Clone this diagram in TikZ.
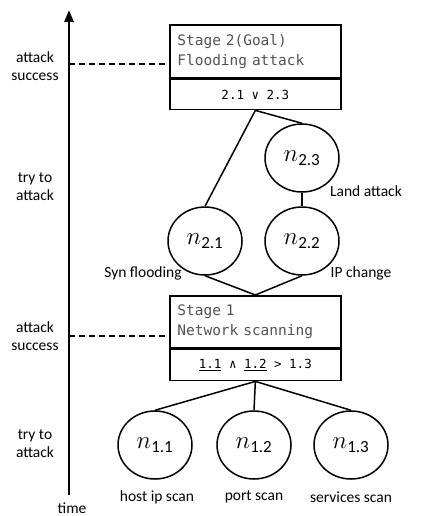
\documentclass[tikz,border=0pt]{standalone}
\usepackage{fontspec}
\setmainfont{Carlito}
\newfontfamily\boxmono{DejaVu Sans Mono}
\newfontfamily\formmono{DejaVu Sans Mono}
\usetikzlibrary{shapes.geometric,arrows.meta}
\newcommand{\evsub}[1]{\mbox{\fontsize{17}{18}\selectfont #1}}
\begin{document}
\begin{tikzpicture}[x=1pt,y=-1pt,
  lbl/.style={font=\fontsize{15.5}{18}\selectfont, align=center, inner sep=0pt},
  evt/.style={draw, ellipse, line width=1.5pt, minimum width=74pt, minimum height=68pt, inner sep=0pt, font=\fontsize{27}{29}\selectfont},
  conn/.style={line width=1.5pt},
  stagebox/.style={draw, line width=1.7pt, minimum width=171pt, inner sep=0pt},
  dsh/.style={dashed, line width=1.3pt, dash pattern=on 6pt off 4pt}]
\useasboundingbox (0,0) rectangle (423,516);
% time axis
\coordinate (tb) at (69,495);
\coordinate (tt) at (69,10);
\draw[line width=2.6pt, -{Triangle[length=12pt,width=9pt]}] (tb) -- (tt);
\node[lbl] (time) at (72,508) {time};
% stage 2 box
\node[stagebox, minimum height=53pt, anchor=north west, align=left, text width=156pt,
  font=\boxmono\fontsize{14.5}{20}\selectfont, text=black!68] (s2) at (169,24) {Stage 2(Goal)\\Flooding attack};
\node[stagebox, minimum height=30pt, anchor=north, font=\formmono\fontsize{12.5}{14}\selectfont] (s2f) at (s2.south) {2.1 ∨ 2.3};
% stage 1 box
\node[stagebox, minimum height=52pt, anchor=north west, align=left, text width=156pt,
  font=\boxmono\fontsize{14.5}{20}\selectfont, text=black!68] (s1) at (169,295) {Stage 1\\Network scanning};
\node[stagebox, minimum height=31pt, anchor=north, font=\formmono\fontsize{12.5}{14}\selectfont] (s1f) at (s1.south) {\underline{1.1} ∧ \underline{1.2} > 1.3};
% events
\node[evt] (n21) at (205,241) {$n_{\evsub{2.1}}$};
\node[evt] (n22) at (302,241) {$n_{\evsub{2.2}}$};
\node[evt] (n23) at (302,158) {$n_{\evsub{2.3}}$};
\node[evt] (n11) at (155,445) {$n_{\evsub{1.1}}$};
\node[evt] (n12) at (254,445) {$n_{\evsub{1.2}}$};
\node[evt] (n13) at (351,445) {$n_{\evsub{1.3}}$};
% connectors
\draw[conn] (s2f.south) -- (n21.north);
\draw[conn] (s2f.south) -- (n23.north);
\draw[conn] (n23.south) -- (n22.north);
\draw[conn] (n21.south) -- (s1.north);
\draw[conn] (n22.south) -- (s1.north);
\draw[conn] (s1f.south) -- (n11.north);
\draw[conn] (s1f.south) -- (n12.north);
\draw[conn] (s1f.south) -- (n13.north);
% event labels
\node[lbl] (l21) at (143,273) {Syn flooding};
\node[lbl] (l22) at (361,273) {IP change};
\node[lbl] (l23) at (366,191) {Land attack};
\node[lbl] (l11) at (157,497) {host ip scan};
\node[lbl] (l12) at (254,497) {port scan};
\node[lbl] (l13) at (351,497) {services scan};
% left labels
\node[lbl] (a2) at (35,66) {attack\\success};
\node[lbl] (t2) at (35,187) {try to\\attack};
\node[lbl] (a1) at (35,336) {attack\\success};
\node[lbl] (t1) at (35,444) {try to\\attack};
% dashed success lines
\coordinate (d2) at (69,64);
\coordinate (d1) at (69,336);
\draw[dsh] (d2) -- (d2 -| s2.west);
\draw[dsh] (d1) -- (d1 -| s1.west);
\end{tikzpicture}
\end{document}
